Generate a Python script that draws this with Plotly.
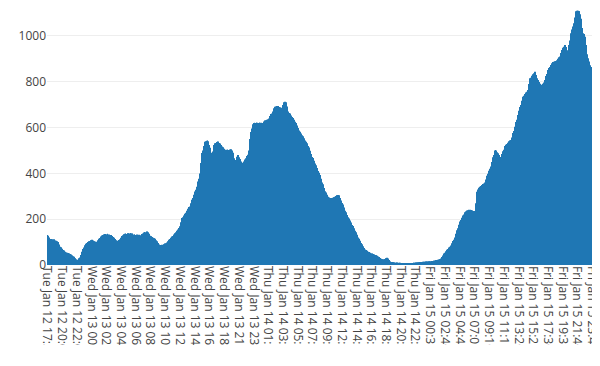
import datetime as dt
import plotly.graph_objects as go

# counts per 5-minute bucket
counts = [
131,128,126,120,116,113,112,114,112,109,
110,112,108,106,107,105,106,104,100,96,
90,84,80,77,74,71,68,66,63,60,
58,57,55,54,53,52,50,50,49,48,
46,44,42,40,38,36,33,30,28,25,
22,21,23,26,29,33,37,44,51,58,
64,70,76,81,86,90,93,96,98,100,
102,104,105,107,108,106,110,109,107,104,
103,101,102,100,102,105,108,112,115,118,
120,124,127,129,131,133,132,134,135,133,
131,134,136,132,129,133,130,128,131,130,
127,125,122,119,116,113,110,108,106,105,
104,106,109,112,116,119,123,127,130,132,
134,133,136,138,135,133,137,139,137,136,
138,140,137,134,138,136,133,131,134,130,
128,131,133,129,127,130,132,129,128,130,
133,135,138,140,142,144,141,143,145,146,
145,143,140,136,131,128,126,124,122,120,
119,117,116,115,112,108,104,100,96,92,
89,87,86,85,87,88,86,89,91,93,
94,95,96,98,101,104,107,110,113,116,
119,121,124,127,130,133,136,139,143,146,
149,152,155,158,161,169,178,187,196,205,
208,212,216,220,224,228,233,237,242,246,
250,253,255,262,270,278,285,292,300,307,
314,321,328,335,342,353,365,377,389,400,
420,445,468,489,500,510,520,530,538,540,
541,542,543,540,532,524,512,500,490,480,
478,495,512,524,528,531,533,535,537,538,
539,536,533,530,527,524,520,517,514,510,
508,505,503,502,503,501,504,502,500,502,
504,503,505,502,500,490,478,466,456,451,
458,466,473,478,480,476,470,463,457,452,
448,446,445,448,452,456,461,466,471,476,
478,481,500,532,550,566,581,596,608,615,
618,620,621,619,620,622,618,621,619,620,
622,620,618,621,620,619,620,624,627,630,
631,632,634,633,633,636,640,645,650,655,
659,661,663,670,678,684,688,691,692,693,
694,693,694,692,690,688,687,686,685,690,
698,705,710,712,713,710,702,692,681,670,
667,664,661,657,653,650,646,642,638,634,
630,625,620,614,609,603,598,592,587,582,
578,574,570,566,562,558,553,548,543,538,
535,532,526,519,513,506,499,492,485,476,
471,467,461,455,449,443,436,430,423,416,
410,403,398,393,385,377,369,360,352,344,
336,328,322,317,312,307,302,298,295,293,
292,291,291,292,293,294,295,296,298,299,
301,303,305,306,306,304,299,293,287,282,
277,271,264,258,251,244,237,230,224,218,
213,208,203,198,194,189,185,180,175,170,
165,160,154,149,143,138,132,126,120,115,
111,106,101,96,91,86,82,78,74,70,
68,66,64,62,60,58,57,55,53,52,
50,50,49,48,47,46,45,44,43,42,
40,39,37,35,33,31,29,27,25,24,
24,23,24,26,28,30,31,32,31,28,
22,18,15,14,13,13,12,12,11,11,
11,10,10,10,11,10,10,9,10,10,
9,9,8,8,7,7,6,5,6,6,
6,7,7,7,8,7,8,8,8,9,
9,9,10,10,10,11,10,11,11,12,
12,12,12,13,12,13,13,14,13,14,
14,14,15,14,15,15,15,16,15,16,
15,16,17,17,18,18,19,19,20,21,
21,22,22,23,23,24,25,25,28,31,
35,38,42,46,50,53,57,60,63,67,
70,73,76,78,80,85,90,95,100,105,
110,115,120,128,136,144,152,160,168,176,
184,190,196,201,206,211,216,221,226,230,
232,234,236,238,239,240,241,240,240,241,
240,238,237,236,235,236,235,240,270,300,
320,330,334,337,340,342,345,347,349,351,
354,356,358,360,365,373,381,390,398,406,
412,416,420,430,440,450,460,470,480,490,
500,502,500,496,492,488,484,480,475,470,
472,478,485,491,497,503,510,520,522,525,
528,531,534,537,540,542,544,546,550,557,
566,576,585,595,604,614,624,634,645,655,
664,673,682,690,699,708,717,726,735,739,
742,746,749,753,756,760,764,777,790,802,
815,818,822,826,830,833,837,840,844,838,
830,822,815,808,803,799,795,791,787,783,
779,785,791,797,803,808,816,825,834,843,
851,855,860,864,869,873,877,881,884,886,
887,888,888,889,891,894,897,900,903,907,
910,917,925,932,939,944,949,953,957,961,
958,952,945,938,931,940,960,980,998,1012,
1020,1028,1035,1041,1055,1068,1081,1095,1108,1110,
1111,1109,1110,1108,1108,1095,1075,1055,1035,1020,
1012,1008,1002,997,980,960,940,920,903,895,
888,880,872,864,856,848,830,808,815,825,
832,840,846,851,848,830,800,770,735,
]

# bucket timestamps (5-minute buckets, two short gaps in the log)
start_time = dt.datetime(2021, 1, 12, 17, 55)
step_minutes = 5
gaps = {488: 30, 713: 15}   # bucket index -> minutes missing before it

times = []
t = start_time
for i in range(len(counts)):
    if i in gaps:
        t += dt.timedelta(minutes=gaps[i])
    times.append(t.strftime("%a %b %d %H:%M:%S %Y"))
    t += dt.timedelta(minutes=step_minutes)

fig = go.Figure(go.Bar(x=times, y=counts, marker=dict(color="#1f77b4")))
fig.update_layout(
    template="none",
    width=592, height=337,
    margin=dict(l=39, r=0, t=0, b=80),
    showlegend=False,
    plot_bgcolor="white", paper_bgcolor="white",
    font=dict(family="Open Sans, verdana, arial, sans-serif", size=12, color="#444"),
    bargap=0.2,
)
fig.update_xaxes(type="category", tickangle=90, automargin=False,
                 tickmode="linear", tick0=0, dtick=25,
                 range=[-0.5, len(counts) - 0.5], showgrid=False, ticks="")
fig.update_yaxes(range=[0, 1122], tickvals=[0, 200, 400, 600, 800, 1000],
                 gridcolor="#eee", zeroline=False, automargin=False, ticks="")
fig.write_html("out.html")
